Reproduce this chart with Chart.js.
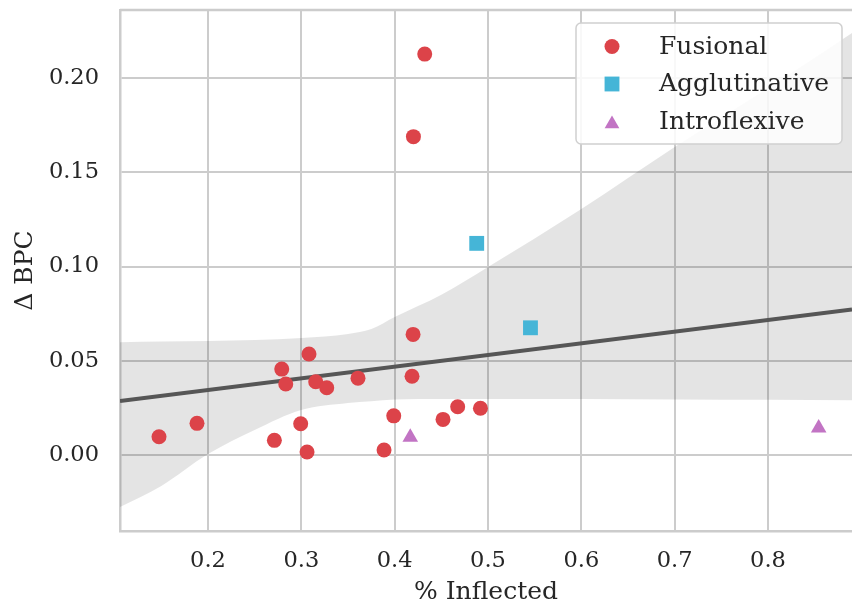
<!DOCTYPE html>
<html>
<head>
<meta charset="utf-8">
<script src="https://cdn.jsdelivr.net/npm/chart.js@4.4.1/dist/chart.umd.min.js"></script>
<style>
  html, body { margin: 0; padding: 0; background: #ffffff; }
  #wrap { width: 852px; height: 607px; }
</style>
</head>
<body>
<div id="wrap"><canvas id="chart" width="852" height="607"></canvas></div>
<script>
// Languages by morphological type: share of inflected words vs. change in bits per character
const fusionalX = [0.1475, 0.1882, 0.2711, 0.2790, 0.2833, 0.2993, 0.3061, 0.3082, 0.3154, 0.3272,
                   0.3607, 0.3886, 0.3990, 0.4197, 0.4186, 0.4201, 0.4322, 0.4518, 0.4675, 0.4919];
const fusionalY = [0.0097, 0.0168, 0.0078, 0.0456, 0.0377, 0.0166, 0.0016, 0.0536, 0.0389, 0.0357,
                   0.0408, 0.0027, 0.0208, 0.0640, 0.0418, 0.1689, 0.2127, 0.0189, 0.0256, 0.0248];
const agglutinativeX = [0.4879, 0.5455];
const agglutinativeY = [0.1123, 0.0675];
const introflexiveX = [0.4167, 0.8543];
const introflexiveY = [0.0094, 0.0143];

// Linear fit across the axis range and its confidence band
const fitX = [0.1057, 0.8900];
const fitY = [0.0286, 0.0772];
const bandX     = [0.1057, 0.15,    0.2,    0.25,   0.3,    0.35,   0.375,  0.4,    0.45,   0.5,    0.6,    0.7,    0.8,    0.89];
const bandUpper = [0.0599, 0.0602,  0.0605, 0.0610, 0.0621, 0.0642, 0.0668, 0.0732, 0.0850, 0.0997, 0.1305, 0.1634, 0.1947, 0.2239];
const bandLower = [-0.0276, -0.0164, 0.0005, 0.0133, 0.0239, 0.0276, 0.0286, 0.0294, 0.0297, 0.0297, 0.0297, 0.0295, 0.0293, 0.0290];

// Axes
const xTickValues = [0.2, 0.3, 0.4, 0.5, 0.6, 0.7, 0.8];
const xTickLabels = ['0.2', '0.3', '0.4', '0.5', '0.6', '0.7', '0.8'];
const yTickValues = [0.0, 0.05, 0.10, 0.15, 0.20];
const yTickLabels = ['0.00', '0.05', '0.10', '0.15', '0.20'];
const xRange = [0.1057, 0.8900];
const yRange = [-0.0403, 0.2361];

const toPoints = (xs, ys) => xs.map((x, i) => ({ x: x, y: ys[i] }));

const TEXT = '#262626';
const GRID = '#cccccc';
const SERIF = "'DejaVu Serif', serif";

// Top spine of the axes frame
const frameTop = {
  id: 'frameTop',
  afterDatasetsDraw(chart) {
    const { ctx, chartArea } = chart;
    ctx.save();
    ctx.strokeStyle = GRID;
    ctx.lineWidth = 2.5;
    ctx.beginPath();
    ctx.moveTo(chartArea.left, chartArea.top);
    ctx.lineTo(chartArea.right, chartArea.top);
    ctx.stroke();
    ctx.restore();
  }
};

// Boxed legend in the upper right corner of the plot area
const boxedLegend = {
  id: 'boxedLegend',
  afterDraw(chart) {
    const { ctx, chartArea } = chart;
    const entries = chart.data.datasets.filter(d => d.inLegend);
    const left = chartArea.right - 276, top = chartArea.top + 13;
    const w = 266, h = 121;
    ctx.save();
    ctx.beginPath();
    ctx.roundRect(left, top, w, h, 5);
    ctx.fillStyle = 'rgba(255,255,255,0.85)';
    ctx.fill();
    ctx.lineWidth = 1.5;
    ctx.strokeStyle = '#d0d0d0';
    ctx.stroke();
    entries.forEach((d, i) => {
      const cy = top + 23.5 + i * 37.5;
      ctx.fillStyle = d.backgroundColor;
      Chart.helpers.drawPoint(ctx, {
        pointStyle: d.pointStyle,
        radius: d.legendRadius,
        rotation: 0,
        borderWidth: 0
      }, left + 36, cy + (d.pointStyle === 'triangle' ? 2.5 : 0));
      ctx.fillStyle = TEXT;
      ctx.font = "25px " + SERIF;
      ctx.textBaseline = 'alphabetic';
      ctx.textAlign = 'left';
      ctx.fillText(d.label, left + 83, cy + 7);
    });
    ctx.restore();
  }
};

new Chart(document.getElementById('chart'), {
  type: 'scatter',
  data: {
    datasets: [
      {
        label: 'Fusional', inLegend: true, legendRadius: 7.5,
        data: toPoints(fusionalX, fusionalY),
        pointStyle: 'circle', pointRadius: 7.5, pointBorderWidth: 0,
        backgroundColor: '#dc4349', borderColor: '#dc4349'
      },
      {
        label: 'Agglutinative', inLegend: true, legendRadius: 10.5,
        data: toPoints(agglutinativeX, agglutinativeY),
        pointStyle: 'rect', pointRadius: 10.5, pointBorderWidth: 0,
        backgroundColor: '#45b5d7', borderColor: '#45b5d7'
      },
      {
        label: 'Introflexive', inLegend: true, legendRadius: 8.5,
        data: toPoints(introflexiveX, introflexiveY),
        pointStyle: 'triangle', pointRadius: 9, pointBorderWidth: 0,
        backgroundColor: '#c274c4', borderColor: '#c274c4'
      },
      {
        label: 'fit', type: 'line',
        data: toPoints(fitX, fitY),
        borderColor: '#565656', borderWidth: 4, pointRadius: 0, fill: false
      },
      {
        label: 'band-upper', type: 'line',
        data: toPoints(bandX, bandUpper),
        borderWidth: 0, borderColor: 'rgba(0,0,0,0)', pointRadius: 0,
        cubicInterpolationMode: 'monotone',
        fill: '+1', backgroundColor: 'rgba(0,0,0,0.105)'
      },
      {
        label: 'band-lower', type: 'line',
        data: toPoints(bandX, bandLower),
        borderWidth: 0, borderColor: 'rgba(0,0,0,0)', pointRadius: 0,
        cubicInterpolationMode: 'monotone', fill: false
      }
    ]
  },
  options: {
    responsive: false,
    animation: false,
    devicePixelRatio: 1,
    layout: { autoPadding: false, padding: { top: 10, right: 0, bottom: 0, left: 0 } },
    plugins: { legend: { display: false }, tooltip: { enabled: false } },
    scales: {
      x: {
        type: 'linear', min: xRange[0], max: xRange[1],
        afterBuildTicks: (s) => { s.ticks = xTickValues.map(v => ({ value: v })); },
        afterFit: (s) => { s.height = 76; s.paddingLeft = 0; s.paddingRight = 0; },
        ticks: {
          color: TEXT, padding: 16.5, maxRotation: 0,
          font: { family: SERIF, size: 22.5 },
          callback: (v) => { const i = xTickValues.findIndex(t => Math.abs(t - v) < 1e-9); return i >= 0 ? xTickLabels[i] : ''; }
        },
        grid: { color: GRID, lineWidth: 2, drawTicks: false },
        border: { display: true, color: GRID, width: 2.5 },
        title: { display: true, text: '% Inflected', color: TEXT, font: { family: SERIF, size: 25 }, padding: { top: 0, bottom: 0 } }
      },
      y: {
        type: 'linear', min: yRange[0], max: yRange[1],
        afterBuildTicks: (s) => { s.ticks = yTickValues.map(v => ({ value: v })); },
        afterFit: (s) => { s.width = 120; s.paddingTop = 0; s.paddingBottom = 0; },
        ticks: {
          color: TEXT, padding: 21,
          font: { family: SERIF, size: 22.5 },
          callback: (v) => { const i = yTickValues.findIndex(t => Math.abs(t - v) < 1e-9); return i >= 0 ? yTickLabels[i] : ''; }
        },
        grid: { color: GRID, lineWidth: 2, drawTicks: false },
        border: { display: true, color: GRID, width: 2.5 },
        title: { display: true, text: 'Δ BPC', color: TEXT, font: { family: SERIF, size: 25 }, padding: { top: 10, bottom: 0 } }
      }
    }
  },
  plugins: [frameTop, boxedLegend]
});
</script>
</body>
</html>
